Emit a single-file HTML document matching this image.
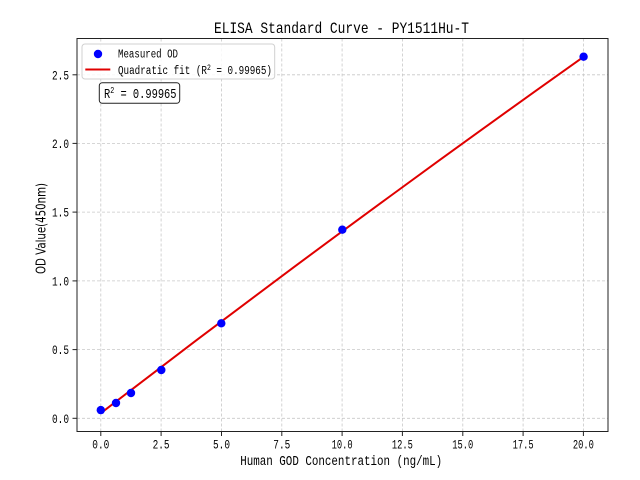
<!DOCTYPE html>
<html><head><meta charset="utf-8"><style>
html,body{margin:0;padding:0;background:#fff;}
svg{display:block;}
text{font-family:"Liberation Mono","DejaVu Sans Mono",monospace;fill:#000;}
</style></head><body>
<svg width="640" height="480" viewBox="0 0 640 480" xmlns="http://www.w3.org/2000/svg">
<rect width="640" height="480" fill="#fff"/>
<!-- grid -->
<g stroke="#c8c8c8" stroke-width="0.8" stroke-dasharray="3,2" fill="none">
<line x1="100.8" y1="38.5" x2="100.8" y2="431.5"/>
<line x1="161.1" y1="38.5" x2="161.1" y2="431.5"/>
<line x1="221.5" y1="38.5" x2="221.5" y2="431.5"/>
<line x1="281.8" y1="38.5" x2="281.8" y2="431.5"/>
<line x1="342.1" y1="38.5" x2="342.1" y2="431.5"/>
<line x1="402.4" y1="38.5" x2="402.4" y2="431.5"/>
<line x1="462.8" y1="38.5" x2="462.8" y2="431.5"/>
<line x1="523.1" y1="38.5" x2="523.1" y2="431.5"/>
<line x1="583.4" y1="38.5" x2="583.4" y2="431.5"/>
<line x1="77" y1="418.3" x2="608" y2="418.3"/>
<line x1="77" y1="349.6" x2="608" y2="349.6"/>
<line x1="77" y1="280.9" x2="608" y2="280.9"/>
<line x1="77" y1="212.1" x2="608" y2="212.1"/>
<line x1="77" y1="143.4" x2="608" y2="143.4"/>
<line x1="77" y1="74.8" x2="608" y2="74.8"/>
</g>
<!-- fit line -->
<polyline fill="none" stroke="#e00000" stroke-width="2" stroke-linejoin="round"
points="100.8,413.2 149.1,376.3 197.3,339.6 245.6,303.3 293.8,267.2 342.1,231.4 390.4,196.0 438.6,160.8 486.9,125.9 535.1,91.3 583.4,56.9"/>
<!-- points -->
<g fill="#0000ff">
<circle cx="100.8" cy="410.1" r="4.2"/>
<circle cx="116.0" cy="403.0" r="4.2"/>
<circle cx="131.0" cy="393.0" r="4.2"/>
<circle cx="161.3" cy="370.0" r="4.2"/>
<circle cx="221.3" cy="323.3" r="4.2"/>
<circle cx="342.3" cy="229.7" r="4.2"/>
<circle cx="583.6" cy="56.7" r="4.2"/>
</g>
<!-- spines -->
<rect x="77" y="38.5" width="531" height="393" fill="none" stroke="#222" stroke-width="1"/>
<!-- ticks -->
<g stroke="#222" stroke-width="1">
<line x1="100.8" y1="431.5" x2="100.8" y2="436"/>
<line x1="161.1" y1="431.5" x2="161.1" y2="436"/>
<line x1="221.5" y1="431.5" x2="221.5" y2="436"/>
<line x1="281.8" y1="431.5" x2="281.8" y2="436"/>
<line x1="342.1" y1="431.5" x2="342.1" y2="436"/>
<line x1="402.4" y1="431.5" x2="402.4" y2="436"/>
<line x1="462.8" y1="431.5" x2="462.8" y2="436"/>
<line x1="523.1" y1="431.5" x2="523.1" y2="436"/>
<line x1="583.4" y1="431.5" x2="583.4" y2="436"/>
<line x1="72.5" y1="418.3" x2="77" y2="418.3"/>
<line x1="72.5" y1="349.6" x2="77" y2="349.6"/>
<line x1="72.5" y1="280.9" x2="77" y2="280.9"/>
<line x1="72.5" y1="212.1" x2="77" y2="212.1"/>
<line x1="72.5" y1="143.4" x2="77" y2="143.4"/>
<line x1="72.5" y1="74.8" x2="77" y2="74.8"/>
</g>
<!-- x tick labels -->
<g font-size="13" text-anchor="middle">
<text x="100.8" y="448.5" textLength="17" lengthAdjust="spacingAndGlyphs">0.0</text>
<text x="161.1" y="448.5" textLength="17" lengthAdjust="spacingAndGlyphs">2.5</text>
<text x="221.5" y="448.5" textLength="17" lengthAdjust="spacingAndGlyphs">5.0</text>
<text x="281.8" y="448.5" textLength="17" lengthAdjust="spacingAndGlyphs">7.5</text>
<text x="342.1" y="448.5" textLength="21" lengthAdjust="spacingAndGlyphs">10.0</text>
<text x="402.4" y="448.5" textLength="21" lengthAdjust="spacingAndGlyphs">12.5</text>
<text x="462.8" y="448.5" textLength="21" lengthAdjust="spacingAndGlyphs">15.0</text>
<text x="523.1" y="448.5" textLength="21" lengthAdjust="spacingAndGlyphs">17.5</text>
<text x="583.4" y="448.5" textLength="21" lengthAdjust="spacingAndGlyphs">20.0</text>
</g>
<!-- y tick labels -->
<g font-size="13" text-anchor="end">
<text x="69" y="422.8" textLength="17" lengthAdjust="spacingAndGlyphs">0.0</text>
<text x="69" y="354.1" textLength="17" lengthAdjust="spacingAndGlyphs">0.5</text>
<text x="69" y="285.4" textLength="17" lengthAdjust="spacingAndGlyphs">1.0</text>
<text x="69" y="216.6" textLength="17" lengthAdjust="spacingAndGlyphs">1.5</text>
<text x="69" y="147.9" textLength="17" lengthAdjust="spacingAndGlyphs">2.0</text>
<text x="69" y="79.3" textLength="17" lengthAdjust="spacingAndGlyphs">2.5</text>
</g>
<!-- title -->
<text x="341.5" y="33" font-size="16" text-anchor="middle" textLength="255" lengthAdjust="spacingAndGlyphs">ELISA Standard Curve - PY1511Hu-T</text>
<!-- x label -->
<text x="341.2" y="465" font-size="13.5" text-anchor="middle" textLength="202" lengthAdjust="spacingAndGlyphs">Human GOD Concentration (ng/mL)</text>
<!-- y label -->
<text transform="translate(45.5,228.5) rotate(-90)" x="0" y="0" font-size="13" text-anchor="middle" textLength="91" lengthAdjust="spacingAndGlyphs" style="font-family:'DejaVu Sans','Liberation Sans',sans-serif">OD Value(450nm)</text>
<!-- legend -->
<rect x="82" y="44" width="192.7" height="35" rx="3" ry="3" fill="#fff" fill-opacity="0.85" stroke="#d0d0d0" stroke-width="1"/>
<circle cx="98" cy="54" r="4.2" fill="#0000ff"/>
<line x1="85.3" y1="69.5" x2="110.3" y2="69.5" stroke="#e00000" stroke-width="2"/>
<text x="118" y="57.5" font-size="11.5" textLength="60" lengthAdjust="spacingAndGlyphs">Measured OD</text>
<text x="118" y="74" font-size="11.5" textLength="154" lengthAdjust="spacingAndGlyphs">Quadratic fit (R<tspan font-size="8" dy="-4">2</tspan><tspan dy="4"> = 0.99965)</tspan></text>
<!-- R2 box -->
<rect x="99.3" y="82.7" width="80.4" height="20.6" rx="3" ry="3" fill="#fff" stroke="#222" stroke-width="1"/>
<text x="104" y="98" font-size="14" textLength="72.5" lengthAdjust="spacingAndGlyphs">R<tspan font-size="9" dy="-5">2</tspan><tspan dy="5"> = 0.99965</tspan></text>
</svg>
</body></html>
